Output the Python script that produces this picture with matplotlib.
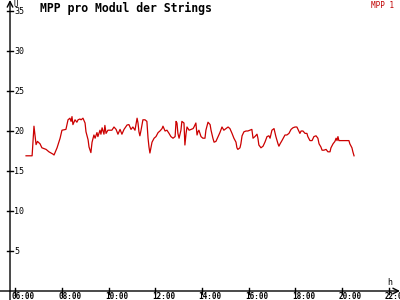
import matplotlib
matplotlib.use("Agg")
import matplotlib.pyplot as plt

# MPP voltage per module, string 1 (hours, volts)
hours = [6.46, 6.72, 6.80, 6.89, 6.95, 7.06, 7.14, 7.32, 7.44, 7.62, 7.66, 7.79,
         7.92, 8.00, 8.17, 8.26, 8.34, 8.39, 8.43, 8.47, 8.56, 8.64, 8.69, 8.77,
         8.82, 8.90, 8.99, 9.03, 9.12, 9.16, 9.24, 9.29, 9.37, 9.42, 9.50, 9.54,
         9.63, 9.67, 9.72, 9.80, 9.84, 9.89, 9.97, 10.14, 10.23, 10.32, 10.40,
         10.49, 10.57, 10.66, 10.79, 10.87, 10.96, 11.04, 11.13, 11.22, 11.26,
         11.30, 11.34, 11.39, 11.47, 11.56, 11.64, 11.69, 11.73, 11.77, 11.82,
         11.86, 11.95, 12.03, 12.12, 12.20, 12.29, 12.33, 12.42, 12.50, 12.59,
         12.67, 12.76, 12.85, 12.89, 12.93, 12.97, 13.02, 13.10, 13.14, 13.23,
         13.27, 13.32, 13.36, 13.45, 13.53, 13.62, 13.66, 13.74, 13.79, 13.83,
         13.87, 13.96, 14.04, 14.13, 14.17, 14.26, 14.35, 14.39, 14.47, 14.52,
         14.60, 14.69, 14.77, 14.86, 14.94, 15.03, 15.12, 15.20, 15.29, 15.37,
         15.46, 15.50, 15.54, 15.63, 15.67, 15.72, 15.80, 15.89, 15.97, 16.06,
         16.14, 16.19, 16.27, 16.36, 16.40, 16.44, 16.53, 16.62, 16.70, 16.79,
         16.87, 16.92, 17.00, 17.09, 17.17, 17.26, 17.30, 17.35, 17.43, 17.52,
         17.56, 17.64, 17.73, 17.82, 17.90, 17.99, 18.07, 18.12, 18.20, 18.25,
         18.33, 18.42, 18.50, 18.54, 18.63, 18.72, 18.80, 18.89, 18.97, 19.02,
         19.10, 19.15, 19.23, 19.32, 19.40, 19.49, 19.53, 19.62, 19.70, 19.75,
         19.79, 19.83, 19.87, 20.00, 20.17, 20.30, 20.34, 20.43, 20.47, 20.52]
volts = [16.9, 16.9, 20.6, 18.3, 18.7, 18.4, 17.9, 17.7, 17.4, 17.1, 17.0, 17.9,
         19.1, 20.1, 20.2, 21.4, 21.6, 21.2, 21.8, 20.8, 21.4, 21.1, 21.4, 21.5,
         21.4, 21.6, 21.0, 19.9, 18.9, 18.0, 17.3, 18.6, 19.5, 19.1, 19.8, 19.3,
         20.1, 19.6, 20.4, 19.6, 20.7, 19.7, 20.1, 20.1, 20.5, 20.2, 19.6,
         20.2, 19.6, 20.2, 20.75, 20.8, 20.2, 20.5, 20.1, 21.6, 21.0,
         19.9, 19.4, 20.1, 21.4, 21.4, 21.2, 19.1, 18.0, 17.25, 18.0,
         18.6, 19.1, 19.3, 19.8, 20.0, 20.3, 20.6, 20.0, 20.1, 19.7,
         19.3, 19.1, 19.3, 21.2, 21.0, 19.7, 19.1, 20.1, 21.2, 21.0,
         18.25, 19.7, 20.5, 20.1, 20.2, 20.3, 20.5, 21.0, 19.5, 19.9,
         20.1, 19.3, 19.1, 19.1, 20.1, 21.1, 20.8, 20.1, 19.1, 18.6,
         18.7, 19.3, 19.8, 20.5, 20.1, 20.3, 20.5, 20.3, 19.7, 19.1,
         18.6, 17.9, 17.7, 17.9, 18.4, 19.4, 19.9, 20.0, 20.0, 20.1,
         20.2, 19.1, 19.3, 19.6, 19.1, 18.25, 17.9, 18.1, 18.6, 19.3,
         19.4, 19.1, 20.1, 20.3, 19.3, 18.4, 18.1, 18.4, 18.8, 19.3,
         19.5, 19.5, 19.7, 20.2, 20.4, 20.5, 20.5, 20.2, 19.7, 20.0,
         20.0, 19.7, 19.7, 19.3, 18.8, 18.8, 19.3, 19.4, 19.1, 18.4,
         18.0, 17.6, 17.6, 17.7, 17.4, 17.4, 17.9, 18.4, 18.7, 19.1,
         18.8, 19.3, 18.8, 18.8, 18.8, 18.8, 18.4, 17.9, 17.4, 16.9]

x_ticks = [6, 8, 10, 12, 14, 16, 18, 20, 22]
x_labels = ["06:00", "08:00", "10:00", "12:00", "14:00", "16:00", "18:00", "20:00", "22:00"]
y_ticks = [5, 10, 15, 20, 25, 30, 35]

mono = "DejaVu Sans Mono"
red = "#cc0000"

fig = plt.figure(figsize=(4, 3), dpi=100)
ax = fig.add_axes([0, 0, 1, 1])
ax.set_xlim(5.344, 22.49)
ax.set_ylim(-1.125, 36.375)
ax.axis("off")

x0 = 5.773  # where the y axis sits

# axes with arrows
ax.annotate("", xy=(22.49, 0), xytext=(5.344, 0),
            arrowprops=dict(arrowstyle="->", color="black", lw=1, shrinkA=0, shrinkB=0))
ax.annotate("", xy=(x0, 36.375), xytext=(x0, -1.125),
            arrowprops=dict(arrowstyle="->", color="black", lw=1, shrinkA=0, shrinkB=0))

# tick marks and labels
for t, lab in zip(x_ticks, x_labels):
    ax.plot([t, t], [-0.4, 0.4], color="black", lw=1)
    ax.text(t - 0.15, -0.1, lab, fontsize=5.5, family=mono, fontweight="bold",
            ha="left", va="top")
for v in y_ticks:
    ax.plot([x0 - 0.13, x0 + 0.13], [v, v], color="black", lw=1)
    ax.text(x0 + 0.17, v, str(v), fontsize=6, family=mono, ha="left", va="center")

ax.text(x0 + 0.17, 35.8, "U", fontsize=5.5, family=mono, ha="left", va="center")
ax.text(21.95, 1.1, "h", fontsize=6, family=mono, ha="left", va="center")

# data line
ax.plot(hours, volts, color=red, lw=0.9)

fig.text(40 / 400, 1 - 8 / 300, "MPP pro Modul der Strings", fontsize=8.3, family=mono,
         fontweight="bold", ha="left", va="center")
fig.text(394 / 400, 1 - 1 / 300, "MPP 1", fontsize=5.5, family=mono, color="#c00000",
         ha="right", va="top")

fig.savefig("out.png", dpi=100)
